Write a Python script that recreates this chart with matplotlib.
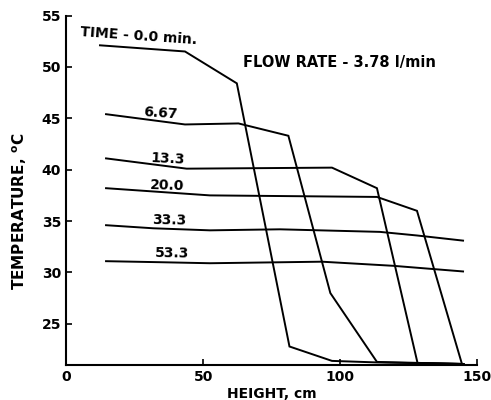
import matplotlib
matplotlib.use('Agg')
import matplotlib.pyplot as plt

plt.rcParams['font.family'] = ['DejaVu Sans']
plt.rcParams['font.weight'] = 'bold'

# height (cm) / temperature (C) for each time after start
h_0 = [12.4, 43.4, 62.3, 81.5, 97.0, 113.4, 145.0]
t_0 = [52.1, 51.5, 48.4, 22.8, 21.4, 21.25, 21.1]

h_667 = [14.6, 43.4, 62.9, 81.1, 96.4, 113.4, 145.0]
t_667 = [45.4, 44.4, 44.5, 43.3, 28.0, 21.3, 21.1]

h_133 = [14.6, 44.0, 97.0, 113.4, 128.2, 145.0]
t_133 = [41.1, 40.1, 40.2, 38.2, 21.2, 21.1]

h_200 = [14.6, 52.5, 113.4, 128.0, 144.4]
t_200 = [38.2, 37.5, 37.35, 36.0, 21.1]

h_333 = [14.6, 31.8, 52.5, 78.0, 114.5, 128.0, 144.8]
t_333 = [34.6, 34.3, 34.1, 34.2, 33.95, 33.6, 33.1]

h_533 = [14.6, 34.3, 52.5, 93.3, 119.3, 144.8]
t_533 = [31.1, 31.0, 30.9, 31.05, 30.65, 30.1]

curves = [(h_0, t_0), (h_667, t_667), (h_133, t_133),
          (h_200, t_200), (h_333, t_333), (h_533, t_533)]

labels = ['TIME - 0.0 min.', '6.67', '13.3', '20.0', '33.3', '53.3']
label_x = [5.0, 28.1, 30.7, 30.7, 31.3, 32.5]
label_y = [52.7, 44.9, 40.5, 37.85, 34.4, 31.25]
label_rot = [-4, -4, -3, -2, -1, -1]

fig = plt.figure(figsize=(4.91, 4.0), dpi=100)
ax = fig.add_axes([66 / 491, 35 / 400, (477.3 - 66) / 491, (365 - 15.5) / 400])

for h, t in curves:
    ax.plot(h, t, color='black', lw=1.4, solid_joinstyle='miter')

for s, x, y, r in zip(labels, label_x, label_y, label_rot):
    ax.text(x, y, s, fontsize=10, fontweight='bold', rotation=r,
            ha='left', va='bottom', rotation_mode='anchor')

ax.text(64.6, 50.4, 'FLOW RATE - 3.78 l/min', fontsize=10.5, fontweight='bold',
        ha='left', va='center')

ax.set_xlim(0, 150)
ax.set_ylim(21, 55)
ax.set_xticks([0, 50, 100, 150])
ax.set_yticks([25, 30, 35, 40, 45, 50, 55])
ax.tick_params(direction='in', length=4, width=1.2, labelsize=10)
for lab in ax.get_xticklabels() + ax.get_yticklabels():
    lab.set_fontweight('bold')
ax.spines['top'].set_visible(False)
ax.spines['right'].set_visible(False)
ax.spines['left'].set_linewidth(1.5)
ax.spines['bottom'].set_linewidth(1.5)

ax.set_xlabel('HEIGHT, cm', fontsize=10, fontweight='bold', labelpad=2)
ax.set_ylabel('TEMPERATURE, $\\mathbf{^{o}C}$', fontsize=11, fontweight='bold')
ax.yaxis.set_label_coords(-0.09, 0.44)

fig.savefig('out.png', dpi=100)
